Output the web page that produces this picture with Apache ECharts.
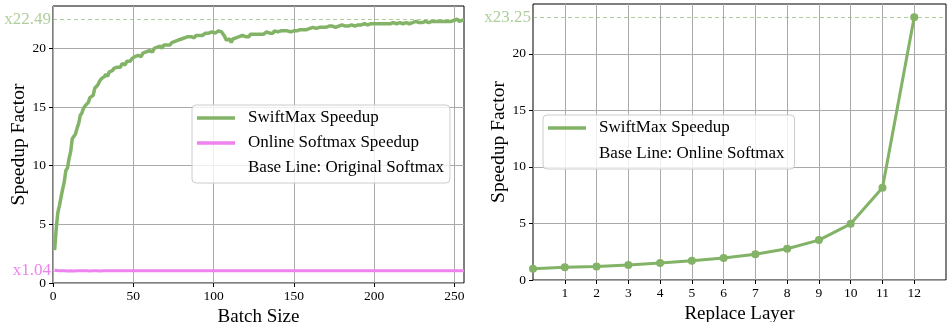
<!DOCTYPE html>
<html><head><meta charset="utf-8">
<script src="https://cdn.jsdelivr.net/npm/echarts@6/dist/echarts.min.js"></script>
<style>html,body{margin:0;padding:0;background:#fff}#c{width:948px;height:322px}</style>
</head><body><div id="c"></div>
<script>
// ---- Data ----
// Left panel: speedup vs batch size (batch = 1..256)
const swiftBatch = [
 2.8, 4.6, 6.0, 6.6, 7.3, 8.0, 8.6, 9.6, 9.8, 10.6,
 11.2, 12.3, 12.4, 12.7, 13.2, 13.6, 14.3, 14.5, 14.9, 15.1,
 15.2, 15.4, 15.8, 15.7, 16.0, 16.6, 16.7, 16.9, 17.2, 17.4,
 17.3, 17.6, 17.8, 17.6, 18.0, 17.9, 18.1, 18.3, 18.2, 18.4,
 18.5, 18.4, 18.7, 18.8, 18.6, 18.9, 19.0, 18.9, 19.1, 19.2,
 19.3, 19.2, 19.4, 19.5, 19.3, 19.6, 19.5, 19.7, 19.6, 19.8,
 19.9, 19.7, 20.0, 19.9, 20.1, 20.1, 20.2, 20.0, 20.3, 20.2,
 20.3, 20.4, 20.3, 20.5, 20.4, 20.6, 20.5, 20.7, 20.6, 20.8,
 20.8, 20.9, 20.8, 21.0, 20.9, 21.0, 21.1, 20.9, 21.1, 21.0,
 21.1, 21.2, 21.1, 21.2, 21.3, 21.2, 21.3, 21.2, 21.4, 21.3,
 21.3, 21.4, 21.5, 21.5, 21.4, 21.2, 21.0, 20.7, 20.6, 20.8,
 20.5, 20.8, 20.7, 20.9, 20.8, 21.0, 20.9, 21.1, 21.0, 21.0,
 21.1, 21.0, 21.2, 21.1, 21.2, 21.1, 21.2, 21.3, 21.2, 21.3,
 21.2, 21.3, 21.4, 21.3, 21.3, 21.4, 21.3, 21.5, 21.4, 21.4,
 21.4, 21.5, 21.4, 21.5, 21.4, 21.5, 21.5, 21.4, 21.5, 21.5,
 21.6, 21.5, 21.6, 21.6, 21.5, 21.6, 21.7, 21.6, 21.7, 21.7,
 21.7, 21.8, 21.7, 21.7, 21.8, 21.8, 21.7, 21.8, 21.8, 21.8,
 21.8, 21.9, 21.8, 21.9, 21.9, 21.8, 21.9, 21.9, 21.9, 22.0,
 21.9, 21.9, 22.0, 21.9, 22.0, 22.0, 21.9, 21.9, 22.0, 22.0,
 22.0, 22.0, 22.0, 22.1, 22.0, 22.0, 22.1, 22.1, 22.0, 22.1,
 22.1, 22.1, 22.0, 22.1, 22.1, 22.1, 22.2, 22.1, 22.1, 22.1,
 22.1, 22.2, 22.1, 22.1, 22.2, 22.2, 22.1, 22.1, 22.2, 22.2,
 22.2, 22.1, 22.2, 22.2, 22.2, 22.3, 22.2, 22.2, 22.2, 22.2,
 22.2, 22.3, 22.2, 22.2, 22.3, 22.3, 22.2, 22.3, 22.3, 22.3,
 22.3, 22.3, 22.4, 22.3, 22.3, 22.3, 22.4, 22.3, 22.4, 22.4,
 22.4, 22.49, 22.3, 22.4, 22.4, 22.4
];
const onlineBatch = [
 1.10, 1.07, 1.05, 1.04, 1.04, 1.03, 1.04, 1.04, 1.03, 1.04, 1.04, 1.04, 1.03, 1.04, 1.04, 1.04,
 1.04, 1.03, 1.04, 1.04, 1.04, 1.04, 1.03, 1.04, 1.04, 1.04, 1.04, 1.04, 1.03, 1.04, 1.04, 1.04,
 1.04, 1.04, 1.04, 1.03, 1.04, 1.04, 1.04, 1.04, 1.04, 1.04, 1.04, 1.03, 1.04, 1.04, 1.04, 1.04,
 1.04, 1.04, 1.04, 1.04, 1.04, 1.03, 1.04, 1.04, 1.04, 1.04, 1.04, 1.04, 1.04, 1.04, 1.04, 1.04,
 1.04, 1.04, 1.04, 1.04, 1.04, 1.04, 1.04, 1.04, 1.04, 1.04, 1.04, 1.04, 1.04, 1.04, 1.04, 1.04,
 1.04, 1.04, 1.04, 1.04, 1.04, 1.04, 1.04, 1.04, 1.04, 1.04, 1.04, 1.04, 1.04, 1.04, 1.04, 1.04,
 1.04, 1.04, 1.04, 1.04, 1.04, 1.04, 1.04, 1.04, 1.04, 1.04, 1.04, 1.04, 1.04, 1.04, 1.04, 1.04,
 1.04, 1.04, 1.04, 1.04, 1.04, 1.04, 1.04, 1.04, 1.04, 1.04, 1.04, 1.04, 1.04, 1.04, 1.04, 1.04,
 1.04, 1.04, 1.04, 1.04, 1.04, 1.04, 1.04, 1.04, 1.04, 1.04, 1.04, 1.04, 1.04, 1.04, 1.04, 1.04,
 1.04, 1.04, 1.04, 1.04, 1.04, 1.04, 1.04, 1.04, 1.04, 1.04, 1.04, 1.04, 1.04, 1.04, 1.04, 1.04,
 1.04, 1.04, 1.04, 1.04, 1.04, 1.04, 1.04, 1.04, 1.04, 1.04, 1.04, 1.04, 1.04, 1.04, 1.04, 1.04,
 1.04, 1.04, 1.04, 1.04, 1.04, 1.04, 1.04, 1.04, 1.04, 1.04, 1.04, 1.04, 1.04, 1.04, 1.04, 1.04,
 1.04, 1.04, 1.04, 1.04, 1.04, 1.04, 1.04, 1.04, 1.04, 1.04, 1.04, 1.04, 1.04, 1.04, 1.04, 1.04,
 1.04, 1.04, 1.04, 1.04, 1.04, 1.04, 1.04, 1.04, 1.04, 1.04, 1.04, 1.04, 1.04, 1.04, 1.04, 1.04,
 1.04, 1.04, 1.04, 1.04, 1.04, 1.04, 1.04, 1.04, 1.04, 1.04, 1.04, 1.04, 1.04, 1.04, 1.04, 1.04,
 1.04, 1.04, 1.04, 1.04, 1.04, 1.04, 1.04, 1.04, 1.04, 1.04, 1.04, 1.04, 1.04, 1.04, 1.04, 1.04
];
const batchTicks = [0, 50, 100, 150, 200, 250];
const speedTicks = [0, 5, 10, 15, 20];
const maxBatchSpeedup = 22.49;
const onlineSpeedup = 1.04;

// Right panel: speedup vs replaced layer
const layers = [0, 1, 2, 3, 4, 5, 6, 7, 8, 9, 10, 11, 12];
const swiftLayer = [1.0, 1.12, 1.2, 1.32, 1.5, 1.7, 1.94, 2.27, 2.77, 3.53, 4.97, 8.15, 23.25];
const layerTicks = [1, 2, 3, 4, 5, 6, 7, 8, 9, 10, 11, 12];
const maxLayerSpeedup = 23.25;

// ---- Styling ----
const FONT = "'Liberation Serif', 'Times New Roman', serif";
const GREEN = '#82b366';
const GREEN_LIGHT = 'rgba(130,179,102,0.65)';
const VIOLET = '#ee82ee';
const GRID_COLOR = '#aaaaaa';

function xAxisCfg(gridIndex, min, max, ticks, name) {
  return {
    type: 'value', gridIndex, min, max,
    axisLine: { show: false },
    axisTick: { show: true, customValues: ticks, length: 4, lineStyle: { color: '#000', width: 1 } },
    axisLabel: { customValues: ticks, color: '#000', fontFamily: FONT, fontSize: 13.5, margin: 6 },
    splitLine: { show: true, lineStyle: { color: GRID_COLOR, width: 1 } },
    name, nameLocation: 'middle', nameGap: 18,
    nameTextStyle: { color: '#000', fontFamily: FONT, fontSize: 19, verticalAlign: 'top' }
  };
}
function yAxisCfg(gridIndex, max) {
  return {
    type: 'value', gridIndex, min: 0, max,
    axisLine: { show: false },
    axisTick: { show: true, customValues: speedTicks, length: 4, lineStyle: { color: '#000', width: 1 } },
    axisLabel: { customValues: speedTicks, color: '#000', fontFamily: FONT, fontSize: 13.5, margin: 7 },
    splitLine: { show: true, lineStyle: { color: GRID_COLOR, width: 1 } },
    name: 'Speedup Factor', nameLocation: 'middle', nameGap: 23, nameRotate: 90,
    nameTextStyle: { color: '#000', fontFamily: FONT, fontSize: 19.5 }
  };
}
function refLine(value, color, lineColor) {
  return {
    silent: true, symbol: ['none', 'none'], animation: false,
    data: [{ yAxis: value }],
    lineStyle: { type: [4, 3], color: lineColor, width: 1.2 },
    label: { show: true, position: 'start', distance: 2, formatter: 'x' + value.toFixed(2),
             color, fontFamily: FONT, fontSize: 17 },
    emphasis: { disabled: true }
  };
}
const legendBase = {
  orient: 'vertical', icon: 'rect', itemWidth: 38, itemHeight: 3.5,
  backgroundColor: 'rgba(255,255,255,0.8)', borderColor: '#cccccc', borderWidth: 1, borderRadius: 4,
  textStyle: { color: '#000', fontFamily: FONT, fontSize: 17, lineHeight: 18, padding: [0, 0, 0, 8] },
  selectedMode: false
};

const chart = echarts.init(document.getElementById('c'), null, { renderer: 'canvas' });
chart.setOption({
  animation: false,
  backgroundColor: '#fff',
  grid: [
    { left: 53, top: 6, width: 411, height: 277, show: true, borderColor: '#000', borderWidth: 1, backgroundColor: 'transparent', outerBoundsMode: 'none', containLabel: false },
    { left: 533, top: 4, width: 413, height: 276, show: true, borderColor: '#000', borderWidth: 1, backgroundColor: 'transparent', outerBoundsMode: 'none', containLabel: false }
  ],
  xAxis: [
    xAxisCfg(0, 0, 256, batchTicks, 'Batch Size'),
    xAxisCfg(1, 0, 13, layerTicks, 'Replace Layer')
  ],
  yAxis: [
    yAxisCfg(0, maxBatchSpeedup * 1.05),
    yAxisCfg(1, maxLayerSpeedup * 1.05)
  ],
  legend: [
    Object.assign({}, legendBase, {
      left: 192, top: 105, itemGap: 7, padding: [4, 6, 6, 5],
      data: ['SwiftMax Speedup', 'Online Softmax Speedup', 'Base Line: Original Softmax']
    }),
    Object.assign({}, legendBase, {
      left: 543, top: 115, itemGap: 8, padding: [4, 10, 6, 5],
      data: ['SwiftMax Speedup', 'Base Line: Online Softmax']
    })
  ],
  series: [
    {
      name: 'SwiftMax Speedup', type: 'line', xAxisIndex: 0, yAxisIndex: 0,
      data: swiftBatch.map((v, i) => [i + 1, v]),
      showSymbol: false, symbol: 'none', clip: true, z: 4,
      lineStyle: { color: GREEN, width: 3.5 }, itemStyle: { color: GREEN },
      markLine: refLine(maxBatchSpeedup, GREEN_LIGHT, GREEN_LIGHT)
    },
    {
      name: 'Online Softmax Speedup', type: 'line', xAxisIndex: 0, yAxisIndex: 0,
      data: onlineBatch.map((v, i) => [i + 1, v]),
      showSymbol: false, symbol: 'none', clip: true, z: 3,
      lineStyle: { color: VIOLET, width: 3 }, itemStyle: { color: VIOLET },
      markLine: refLine(onlineSpeedup, VIOLET, 'rgba(238,130,238,0.6)')
    },
    {
      name: 'Base Line: Original Softmax', type: 'line', xAxisIndex: 0, yAxisIndex: 0,
      data: [], lineStyle: { color: 'rgba(0,0,0,0)' }, itemStyle: { color: 'rgba(0,0,0,0)' }
    },
    {
      name: 'SwiftMax Speedup', type: 'line', xAxisIndex: 1, yAxisIndex: 1,
      data: layers.map((l, i) => [l, swiftLayer[i]]),
      symbol: 'circle', symbolSize: 8, showSymbol: true, clip: true, z: 4,
      lineStyle: { color: GREEN, width: 3 }, itemStyle: { color: GREEN },
      markLine: refLine(maxLayerSpeedup, GREEN_LIGHT, GREEN_LIGHT)
    },
    {
      name: 'Base Line: Online Softmax', type: 'line', xAxisIndex: 1, yAxisIndex: 1,
      data: [], lineStyle: { color: 'rgba(0,0,0,0)' }, itemStyle: { color: 'rgba(0,0,0,0)' }
    }
  ]
});
</script>
</body></html>
